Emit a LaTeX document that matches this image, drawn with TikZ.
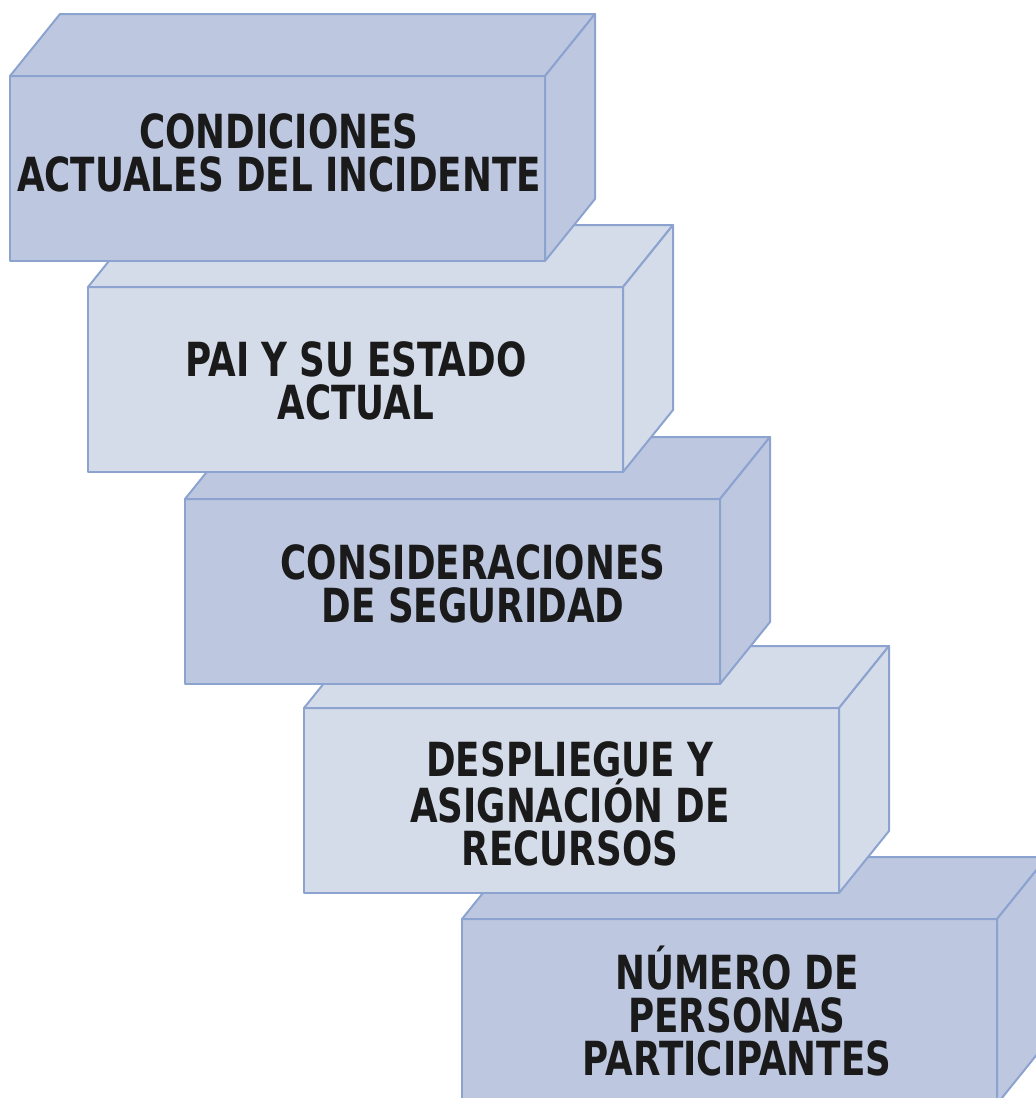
\documentclass[tikz,border=0pt]{standalone}
\usepackage{fontspec}
\newfontfamily\boxfont{DejaVu Sans}[FakeStretch=0.76]
\definecolor{edgeblue}{HTML}{8CA3D0}
\definecolor{darkfill}{HTML}{BDC8E0}
\definecolor{lightfill}{HTML}{D5DCE9}
\definecolor{textblack}{HTML}{1A1A1A}
\tikzset{
  blockface/.style={draw=edgeblue, line width=2pt, line join=round},
  frontface/.style={blockface, rectangle, minimum width=535pt, minimum height=185pt, anchor=north west, inner sep=0pt, outer sep=0pt},
  blocktext/.style={font=\boxfont\bfseries\fontsize{47}{43}\selectfont, align=center, text=textblack}
}
\newcommand\blockat[4]{%
  \node[frontface, fill=#4] (#1) at (#2,#3) {};
  \filldraw[blockface, fill=#4] (#1.north west) -- ++(50,-62) -- ([shift={(50,-62)}]#1.north east) -- (#1.north east) -- cycle;
  \filldraw[blockface, fill=#4] (#1.north east) -- ++(50,-62) -- ++(0,185) -- (#1.south east) -- cycle;
}
\begin{document}
\begin{tikzpicture}[x=1pt, y=-1pt]
\useasboundingbox (0,0) rectangle (1036,1098);
\clip (0,0) rectangle (1036,1098);
\blockat{b5}{462}{919}{darkfill}
\blockat{b4}{304}{708}{lightfill}
\blockat{b3}{185}{499}{darkfill}
\blockat{b2}{88}{287}{lightfill}
\blockat{b1}{10}{76}{darkfill}
\node[blocktext] (t1) at (279,153) {CONDICIONES\\ACTUALES DEL INCIDENTE};
\node[blocktext] (t2) at (356,381) {PAI Y SU ESTADO\\ACTUAL};
\node[blocktext] (t3) at (473,584) {CONSIDERACIONES\\DE SEGURIDAD};
\node[blocktext] (t4) at (570,804) {DESPLIEGUE Y\\ASIGNACIÓN DE\\RECURSOS};
\node[blocktext] (t5) at (737,1011) {NÚMERO DE\\PERSONAS\\PARTICIPANTES};
\end{tikzpicture}
\end{document}
